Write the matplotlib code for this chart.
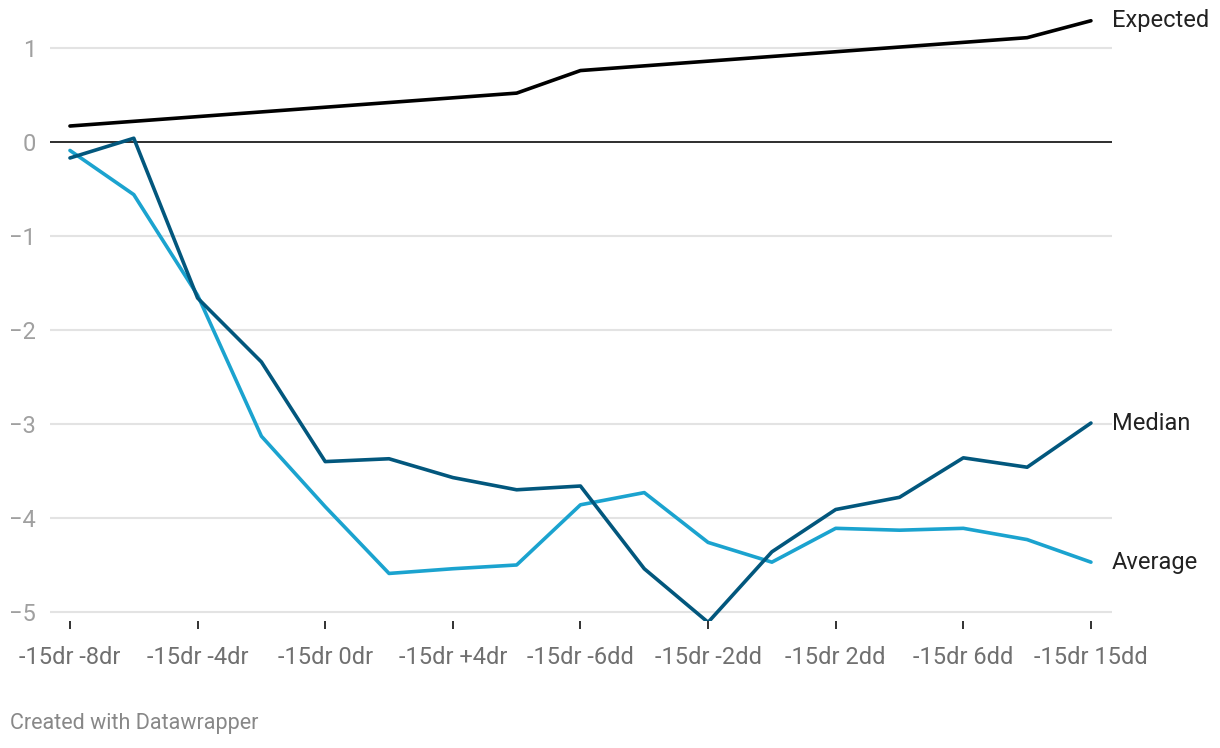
import matplotlib
matplotlib.use("Agg")
import matplotlib.pyplot as plt
import numpy as np

plt.rcParams["font.family"] = ["Roboto", "DejaVu Sans"]

tick_labels = ["-15dr -8dr", "-15dr -4dr", "-15dr 0dr", "-15dr +4dr", "-15dr -6dd",
               "-15dr -2dd", "-15dr 2dd", "-15dr 6dd", "-15dr 15dd"]

expected = [0.17, 0.22, 0.27, 0.32, 0.37, 0.42, 0.47, 0.52, 0.76, 0.81, 0.86, 0.91,
            0.96, 1.01, 1.06, 1.11, 1.29]
median = [-0.17, 0.04, -1.66, -2.34, -3.40, -3.37, -3.57, -3.70, -3.66, -4.54, -5.11,
          -4.36, -3.91, -3.78, -3.36, -3.46, -2.99]
average = [-0.09, -0.56, -1.63, -3.13, -3.88, -4.59, -4.54, -4.50, -3.86, -3.73, -4.26,
           -4.47, -4.11, -4.13, -4.11, -4.23, -4.47]

x = np.arange(len(expected))

fig = plt.figure(figsize=(12.2, 7.48), dpi=100)
ax = fig.add_axes([50 / 1220, 1 - 621 / 748, 1062 / 1220, (621 - 10.4) / 748])

ax.set_xlim(-0.313, 16.33)
ax.set_ylim(-5.096, 1.4)

for v in [1, -1, -2, -3, -4, -5]:
    ax.axhline(v, color="#e3e3e3", lw=1.5, zorder=1)
ax.axhline(0, color="#1d1d1d", lw=1.3, zorder=2)

ax.plot(x, expected, color="#000000", lw=2.6, zorder=4, solid_capstyle="round")
ax.plot(x, median, color="#02577d", lw=2.6, zorder=4, solid_capstyle="round")
ax.plot(x, average, color="#1ba3cf", lw=2.6, zorder=3, solid_capstyle="round")

for name, vals in [("Expected", expected), ("Median", median), ("Average", average)]:
    ax.annotate(name, (x[-1], vals[-1]), xytext=(15, 0), textcoords="offset points",
                fontsize=17, color="#222222", va="center", ha="left", annotation_clip=False)

for s in ax.spines.values():
    s.set_visible(False)

ax.set_xticks(x[::2])
ax.set_xticklabels(tick_labels, fontsize=17, color="#707070")
ax.tick_params(axis="x", length=6, width=1.3, color="#222222", pad=12)

ax.set_yticks([1, 0, -1, -2, -3, -4, -5])
ax.set_yticklabels(["1", "0", "\u22121", "\u22122", "\u22123", "\u22124", "\u22125"],
                   fontsize=17, color="#a0a0a0")
ax.tick_params(axis="y", length=0, pad=10)

fig.text(10 / 1220, 1 - 723 / 748, "Created with Datawrapper", fontsize=15.5,
         color="#888888", va="center", ha="left")

fig.savefig("out.png", dpi=100)
